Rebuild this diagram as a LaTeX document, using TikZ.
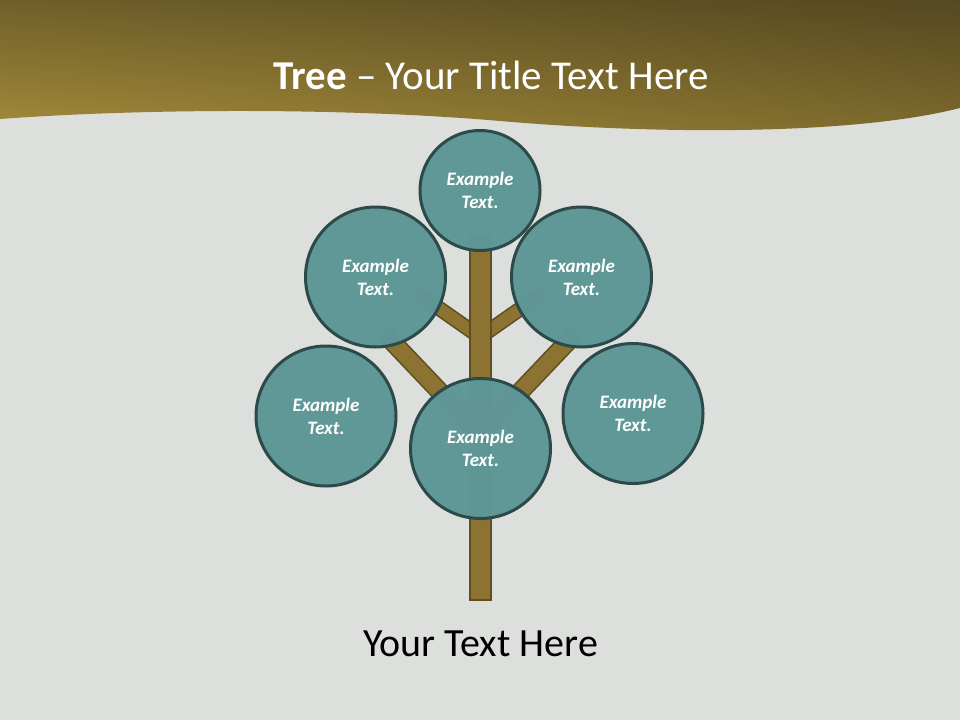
\documentclass[tikz,border=0pt]{standalone}
\usepackage{fontspec}
\setmainfont{Carlito}
\usetikzlibrary{shadings}
\definecolor{paper}{HTML}{DCDFDB}
\definecolor{hdrUL}{HTML}{6F5F2A}
\definecolor{hdrUR}{HTML}{564820}
\definecolor{hdrLL}{HTML}{A68D3A}
\definecolor{hdrLR}{HTML}{7E6B2D}
\definecolor{leaffill}{HTML}{5F9797}
\definecolor{leafline}{HTML}{2C4A4A}
\definecolor{barkfill}{HTML}{8C7331}
\definecolor{barkline}{HTML}{5F4E1F}
\pgfdeclarelayer{backlayer}
\pgfdeclarelayer{branchlayer}
\pgfsetlayers{backlayer,branchlayer,main}
\tikzset{
  leaf/.style={circle, draw=leafline, line width=3pt, fill=leaffill, fill opacity=0.985, text opacity=1,
    text=white, align=center, inner sep=0pt, minimum size=140pt,
    font=\fontsize{19}{23}\selectfont\bfseries\itshape},
  smallbranch/.style={draw=barkline, line width=1.6pt, double=barkfill, double distance=12pt},
  bigbranch/.style={draw=barkline, line width=1.6pt, double=barkfill, double distance=16pt},
  trunkbox/.style={rectangle, draw=barkline, fill=barkfill, line width=2pt, inner sep=0pt,
    minimum width=21pt, minimum height=365pt, anchor=south}
}
\begin{document}
\begin{tikzpicture}[x=1pt,y=-1pt]
\begin{pgfonlayer}{backlayer}
\fill[paper] (0,0) rectangle (960,720);
\useasboundingbox (0,0) rectangle (960,720);
\shade[upper left=hdrUL, upper right=hdrUR, lower left=hdrLL, lower right=hdrLR]
  (0,0) -- (960,0) -- (960,108)
  .. controls (850,136) and (650,134) .. (500,121)
  .. controls (350,108) and (150,108) .. (0,119) -- cycle;
\end{pgfonlayer}

\node[font=\fontsize{41}{49}\selectfont, text=white, anchor=base] (title) at (491,89) {\textbf{Tree} – Your Title Text Here};

% trunk
\node[trunkbox] (trunk) at (480,601) {};

% leaves
\node[leaf, minimum size=120pt] (leafT) at (480,190.5) {Example\\Text.};
\node[leaf] (leafUL) at (375.5,277) {Example\\Text.};
\node[leaf] (leafUR) at (581.5,277) {Example\\Text.};
\node[leaf] (leafLL) at (326,416) {Example\\Text.};
\node[leaf] (leafLR) at (633,413.5) {Example\\Text.};
\node[leaf] (leafB) at (480.5,448.5) {Example\\Text.};

% branches
\coordinate (forkUp) at (480,337);
\coordinate (forkLow) at (480,434);
\coordinate (tipUL) at (415,291.5);
\coordinate (tipUR) at (545,291.5);
\coordinate (tipLL) at (385,334);
\coordinate (tipLR) at (575,334);
\begin{pgfonlayer}{branchlayer}
\draw[smallbranch] (forkUp) -- (tipUL);
\draw[smallbranch] (forkUp) -- (tipUR);
\draw[bigbranch] (forkLow) -- (tipLL);
\draw[bigbranch] (forkLow) -- (tipLR);
\end{pgfonlayer}

\node[font=\fontsize{40}{48}\selectfont, text=black, anchor=base] (caption) at (480.5,656) {Your Text Here};
\end{tikzpicture}
\end{document}
